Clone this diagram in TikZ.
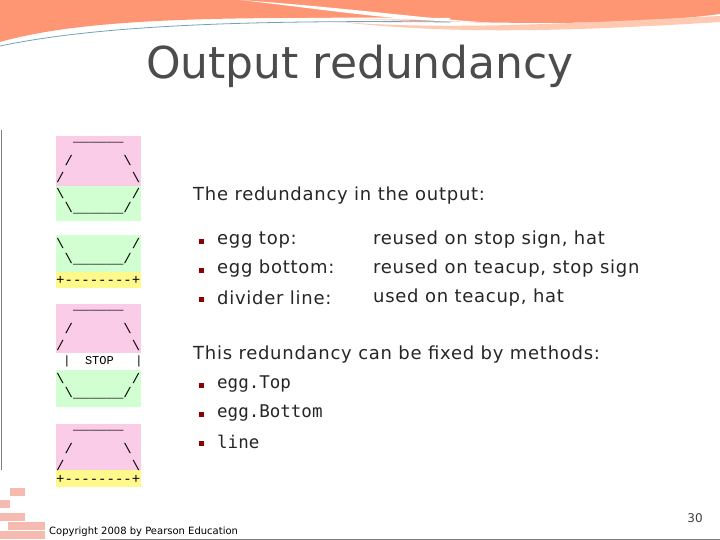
\documentclass[tikz,border=0pt]{standalone}
\usepackage{fontspec}
\setmainfont{DejaVu Sans}
\newfontfamily\monoart{Liberation Mono}
\newfontfamily\monob{DejaVu Sans Mono}
\newfontfamily\wide[LetterSpace=4]{DejaVu Sans}
\begin{document}
\begin{tikzpicture}[x=1pt,y=-1pt,
  art/.style={anchor=west,inner sep=0pt,font=\monoart\fontsize{14}{14}\selectfont},
  txt/.style={anchor=west,inner sep=0pt,font=\wide\fontsize{18}{18}\selectfont,text=black!85},
  mtxt/.style={anchor=west,inner sep=0pt,font=\monob\fontsize{17.5}{17.5}\selectfont,text=black!85},
  bul/.style={fill=red!55!black,minimum size=5pt,inner sep=0pt}]
\useasboundingbox (0,0) rectangle (720,540);
\fill[white] (0,0) rectangle (720,540);
% top decoration
\fill[red!50!orange!55] (0,0) -- (720,0) -- (720,14) .. controls (600,30) and (420,20) .. (300,18) .. controls (150,18) and (60,25) .. (0,42) -- cycle;
\fill[white] (240,0) .. controls (350,8) and (420,18) .. (480,22) .. controls (400,22) and (330,10) .. (240,0) -- cycle;
\fill[red!40!orange!30] (340,22) .. controls (450,30) and (560,24) .. (720,16) -- (720,22) .. controls (560,32) and (450,34) .. (340,22) -- cycle;
\draw[gray!60!cyan,line width=0.8pt] (0,46) .. controls (100,25) and (250,20) .. (450,22);
\draw[white,line width=2pt] (0,44) .. controls (100,22) and (250,17) .. (450,19);
% left line
\draw[gray,line width=1pt] (1.5,130) -- (1.5,470);
% bottom line
\draw[gray,line width=1pt] (100,539) -- (720,539);
% bricks
\foreach \bx/\by/\bw in {0/500/10, 0/513/25, 8/522/37, 0/531/45, 10/488/15}{
  \fill[brown!45!red!35] (\bx,\by) rectangle ++(\bw,8);
}
% title
\node[inner sep=0pt,font=\fontsize{44}{44}\selectfont,text=black!70] (title) at (360,66) {Output redundancy};
% colored backgrounds
\fill[magenta!20] (56,136) rectangle (141,186);
\fill[green!18] (56,186) rectangle (141,221);
\fill[green!18] (56,235) rectangle (141,272);
\fill[yellow!45] (56,272) rectangle (141,288);
\fill[magenta!20] (56,304) rectangle (141,353);
\fill[green!18] (56,370) rectangle (141,407);
\fill[magenta!20] (56,424) rectangle (141,470);
\fill[yellow!45] (56,470) rectangle (141,487);
% ascii art
\node[art] (a1) at (56,142) {\ \ \_\_\_\_\_\_};
\node[art] (a2) at (56,160) {\ /\ \ \ \ \ \ \textbackslash};
\node[art] (a3) at (56,177) {/\ \ \ \ \ \ \ \ \textbackslash};
\node[art] (a4) at (56,193) {\textbackslash\ \ \ \ \ \ \ \ /};
\node[art] (a5) at (56,208) {\ \textbackslash\_\_\_\_\_\_/};
\node[art] (b1) at (56,243) {\textbackslash\ \ \ \ \ \ \ \ /};
\node[art] (b2) at (56,259) {\ \textbackslash\_\_\_\_\_\_/};
\node[art] (b3) at (56,280) {+--------+};
\node[art] (c1) at (56,310) {\ \ \_\_\_\_\_\_};
\node[art] (c2) at (56,328) {\ /\ \ \ \ \ \ \textbackslash};
\node[art] (c3) at (56,345) {/\ \ \ \ \ \ \ \ \textbackslash};
\node[art,font=\monoart\fontsize{12}{12}\selectfont] (c4) at (56,361) {\ |\ \ STOP\ \ \ |};
\node[art] (c5) at (56,378) {\textbackslash\ \ \ \ \ \ \ \ /};
\node[art] (c6) at (56,393) {\ \textbackslash\_\_\_\_\_\_/};
\node[art] (d1) at (56,430) {\ \ \_\_\_\_\_\_};
\node[art] (d2) at (56,448) {\ /\ \ \ \ \ \ \textbackslash};
\node[art] (d3) at (56,465) {/\ \ \ \ \ \ \ \ \textbackslash};
\node[art] (d4) at (56,479) {+--------+};
% text
\node[txt] (t1) at (193,196) {The redundancy in the output:};
\node[bul] (u1) at (201,241) {};
\node[bul] (u2) at (201,270) {};
\node[bul] (u3) at (201,299) {};
\node[txt] (e1) at (217,240) {egg top:};
\node[txt] (e2) at (217,269) {egg bottom:};
\node[txt] (e3) at (217,298) {divider line:};
\node[txt] (f1) at (373,240) {reused on stop sign, hat};
\node[txt] (f2) at (373,269) {reused on teacup, stop sign};
\node[txt] (f3) at (373,298) {used on teacup, hat};
\node[txt] (t2) at (193,355) {This redundancy can be fixed by methods:};
\node[bul] (v1) at (201,385) {};
\node[bul] (v2) at (201,414) {};
\node[bul] (v3) at (201,443) {};
\node[mtxt] (m1) at (217,384) {egg.Top};
\node[mtxt] (m2) at (217,413) {egg.Bottom};
\node[mtxt] (m3) at (217,442) {line};
\node[inner sep=0pt,font=\fontsize{12}{12}\selectfont,text=black!75] (pg) at (695,518) {30};
\node[anchor=west,inner sep=0pt,font=\fontsize{10}{10}\selectfont] (cp) at (49,532) {Copyright 2008 by Pearson Education};
\end{tikzpicture}
\end{document}
